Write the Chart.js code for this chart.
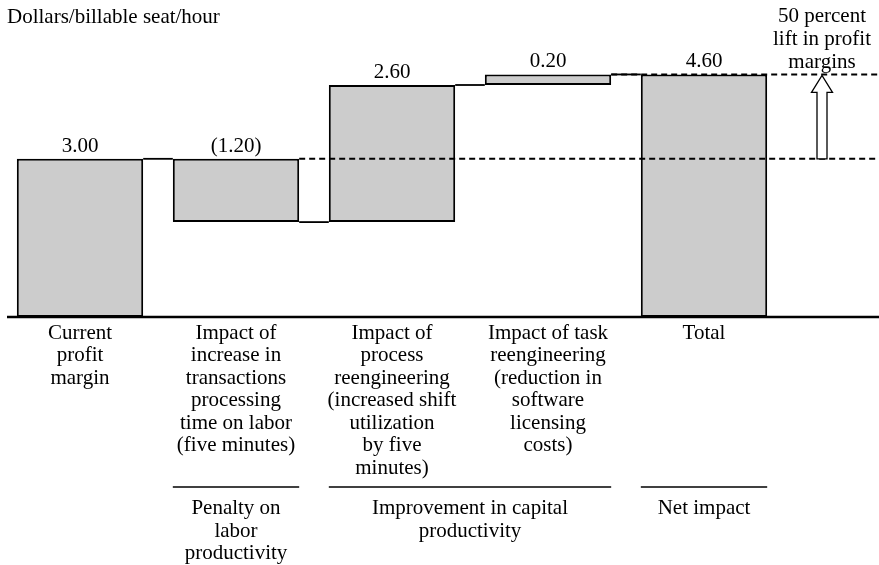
<!DOCTYPE html>
<html><head><meta charset="utf-8">
<script src="https://cdn.jsdelivr.net/npm/chart.js@4/dist/chart.umd.min.js"></script>
<style>html,body{margin:0;padding:0;background:#fff;}</style>
</head><body>
<canvas id="c" width="879" height="565"></canvas>
<script>
// ---- data ----
const categories = [
  ["Current", "profit", "margin"],
  ["Impact of", "increase in", "transactions", "processing", "time on labor", "(five minutes)"],
  ["Impact of", "process", "reengineering", "(increased shift", "utilization", "by five", "minutes)"],
  ["Impact of task", "reengineering", "(reduction in", "software", "licensing", "costs)"],
  ["Total"]
];
const values = [3.00, -1.20, 2.60, 0.20, 4.60];
const isTotal = [true, false, false, false, true];
const valueLabels = ["3.00", "(1.20)", "2.60", "0.20", "4.60"];
const groupLabels = [["Penalty on", "labor", "productivity"], ["Improvement in capital", "productivity"], ["Net impact"]];
const groupFirst = [1, 2, 4];
const groupLast = [1, 3, 4];
const yAxisTitle = "Dollars/billable seat/hour";
const liftNote = ["50 percent", "lift in profit", "margins"];

// floating ranges built from values
const ranges = [];
const levels = [];
let running = 0;
values.forEach((v, i) => {
  if (isTotal[i]) { ranges.push([0, v]); running = v; }
  else { ranges.push([running, running + v]); running = running + v; }
  levels.push(running);
});

const FONT = '"Liberation Serif", "Times New Roman", serif';
const FS = 21;

const overlay = {
  id: 'overlay',
  afterDatasetsDraw(chart) {
    const ctx = chart.ctx;
    const y = chart.scales.y;
    const meta = chart.getDatasetMeta(0);
    const bars = meta.data;
    const W = chart.width;
    const edge = (i, side) => bars[i].x + side * bars[i].width / 2;
    ctx.save();
    // connectors
    ctx.strokeStyle = '#000';
    ctx.lineWidth = 1.8;
    for (let i = 0; i < bars.length - 1; i++) {
      const py = y.getPixelForValue(levels[i]);
      ctx.beginPath();
      ctx.moveTo(edge(i, 1), py);
      ctx.lineTo(edge(i + 1, -1), py);
      ctx.stroke();
    }
    // dashed reference lines
    ctx.setLineDash([6, 4]);
    ctx.lineWidth = 2;
    let py = y.getPixelForValue(values[0]);
    ctx.beginPath(); ctx.moveTo(edge(1, 1), py); ctx.lineTo(W, py); ctx.stroke();
    py = y.getPixelForValue(values[4]);
    ctx.beginPath(); ctx.moveTo(edge(3, 1), py); ctx.lineTo(W, py); ctx.stroke();
    ctx.setLineDash([]);
    // baseline
    const by = y.getPixelForValue(0);
    ctx.lineWidth = 2.5;
    ctx.beginPath(); ctx.moveTo(7, by); ctx.lineTo(W, by); ctx.stroke();
    // hollow arrow
    const ax = chart.chartArea.right + 40;
    const yb = y.getPixelForValue(values[0]);
    const yt = y.getPixelForValue(values[4]);
    ctx.lineWidth = 1.3;
    ctx.fillStyle = '#fff';
    ctx.beginPath();
    ctx.moveTo(ax - 5, yb);
    ctx.lineTo(ax - 5, yt + 18);
    ctx.lineTo(ax - 10.5, yt + 18);
    ctx.lineTo(ax, yt + 1);
    ctx.lineTo(ax + 10.5, yt + 18);
    ctx.lineTo(ax + 5, yt + 18);
    ctx.lineTo(ax + 5, yb);
    ctx.closePath();
    ctx.fill(); ctx.stroke();
    // texts
    ctx.fillStyle = '#000';
    ctx.font = FS + 'px ' + FONT;
    ctx.textAlign = 'center';
    ctx.textBaseline = 'alphabetic';
    bars.forEach((b, i) => {
      const top = y.getPixelForValue(Math.max(ranges[i][0], ranges[i][1]));
      ctx.fillText(valueLabels[i], b.x, top - 7);
    });
    liftNote.forEach((t, k) => ctx.fillText(t, ax, 22 + k * 23));
    ctx.textAlign = 'left';
    ctx.fillText(yAxisTitle, 7, 23);
    // group lines & labels
    ctx.textAlign = 'center';
    groupLabels.forEach((lines, g) => {
      const x0 = edge(groupFirst[g], -1), x1 = edge(groupLast[g], 1);
      ctx.lineWidth = 1.6;
      ctx.beginPath(); ctx.moveTo(x0, 487); ctx.lineTo(x1, 487); ctx.stroke();
      lines.forEach((t, k) => ctx.fillText(t, (x0 + x1) / 2, 514 + k * 22.5));
    });
    ctx.restore();
  }
};

new Chart(document.getElementById('c'), {
  type: 'bar',
  data: {
    labels: categories,
    datasets: [{
      data: ranges,
      backgroundColor: '#cccccc',
      borderColor: '#000',
      borderWidth: 2,
      borderSkipped: false,
      barPercentage: 0.81,
      categoryPercentage: 1.0
    }]
  },
  options: {
    responsive: false,
    animation: false,
    devicePixelRatio: 1,
    layout: { padding: { left: 2, right: 97, top: 27, bottom: 0 } },
    plugins: { legend: { display: false }, tooltip: { enabled: false }, title: { display: false } },
    scales: {
      x: {
        grid: { display: false, drawTicks: false },
        border: { display: false },
        ticks: {
          color: '#000', autoSkip: false, maxRotation: 0, minRotation: 0, padding: 5,
          font: { family: FONT, size: FS, lineHeight: '22.5px' }
        },
        afterFit: (s) => { s.height = 248; }
      },
      y: { display: false, min: 0, max: 5.5 }
    }
  },
  plugins: [overlay]
});
</script>
</body></html>
